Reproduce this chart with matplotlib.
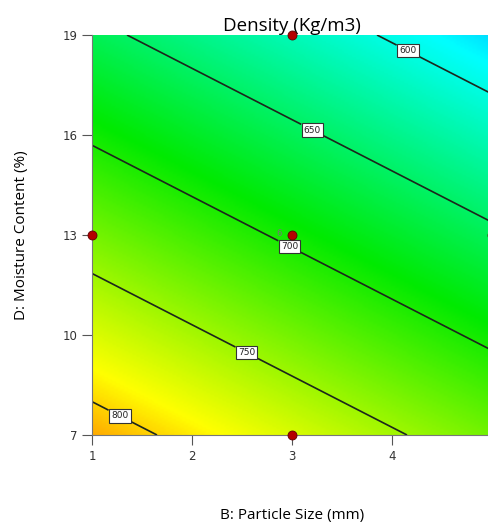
import numpy as np
import matplotlib.pyplot as plt
from matplotlib.colors import LinearSegmentedColormap, Normalize

# response surface: density = a + b*B + d*D
intercept = 924.0
coef_b = -20.0
coef_d = -13.0

levels = [600, 650, 700, 750, 800]
label_pos = [(4.12, 18.3), (3.23, 16.3), (3.0, 12.8), (2.57, 9.6), (1.3, 7.7)]

design_b = [3, 1, 3, 3, 5]
design_d = [19, 13, 13, 7, 13]

x_ticks = [1, 2, 3, 4, 5]
y_ticks = [7, 10, 13, 16, 19]

# Design-Expert like colour ramp, stops at response values
vmin, vmax = 500, 865
stops = [(500, "#0000ff"), (588, "#00ffff"), (690, "#00ea00"),
         (788, "#ffff00"), (865, "#ff0000")]
cmap = LinearSegmentedColormap.from_list(
    "de", [((v - vmin) / (vmax - vmin), c) for v, c in stops])

b = np.linspace(1, 5, 200)
d = np.linspace(7, 19, 200)
B, D = np.meshgrid(b, d)
Z = intercept + coef_b * B + coef_d * D

fig = plt.figure(figsize=(4.88, 5.25), dpi=100)
ax = fig.add_axes([92 / 488, 90 / 525, 400 / 488, 400 / 525])

ax.imshow(Z, extent=(1, 5, 7, 19), origin="lower", aspect="auto",
          cmap=cmap, norm=Normalize(vmin, vmax), interpolation="bilinear")
cs = ax.contour(B, D, Z, levels=levels, colors="#1c261c", linewidths=1.2)
labels = ax.clabel(cs, fmt="%d", fontsize=6.5, inline=True, inline_spacing=4,
                   manual=label_pos)
for t in labels:
    t.set_rotation(0)
    t.set_color("#222222")
    t.set_bbox(dict(facecolor="white", edgecolor="#333333", pad=1.5, lw=0.8))

ax.text(2.9, 13.05, "6", fontsize=6, color="#777777", ha="right", va="center")
ax.scatter(design_b, design_d, s=42, color="#b40000", edgecolors="#600000",
           linewidths=0.6, zorder=5, clip_on=False)

ax.set_xlim(1, 5)
ax.set_ylim(7, 19)
ax.set_xticks(x_ticks)
ax.set_yticks(y_ticks)
ax.tick_params(direction="out", length=7, width=0.8, colors="#555555",
               labelsize=8.5, labelcolor="#333333")
for s in ["top", "right"]:
    ax.spines[s].set_visible(False)
for s in ["left", "bottom"]:
    ax.spines[s].set_color("#777777")
    ax.spines[s].set_linewidth(0.8)

ax.set_title("Density (Kg/m3)", fontsize=13.5, family="Open Sans", pad=1)
ax.set_xlabel("B: Particle Size (mm)", fontsize=11, family="Open Sans",
              labelpad=33)
ax.set_ylabel("D: Moisture Content (%)", fontsize=11, family="Open Sans",
              labelpad=24)

fig.savefig("out.png", dpi=100)
